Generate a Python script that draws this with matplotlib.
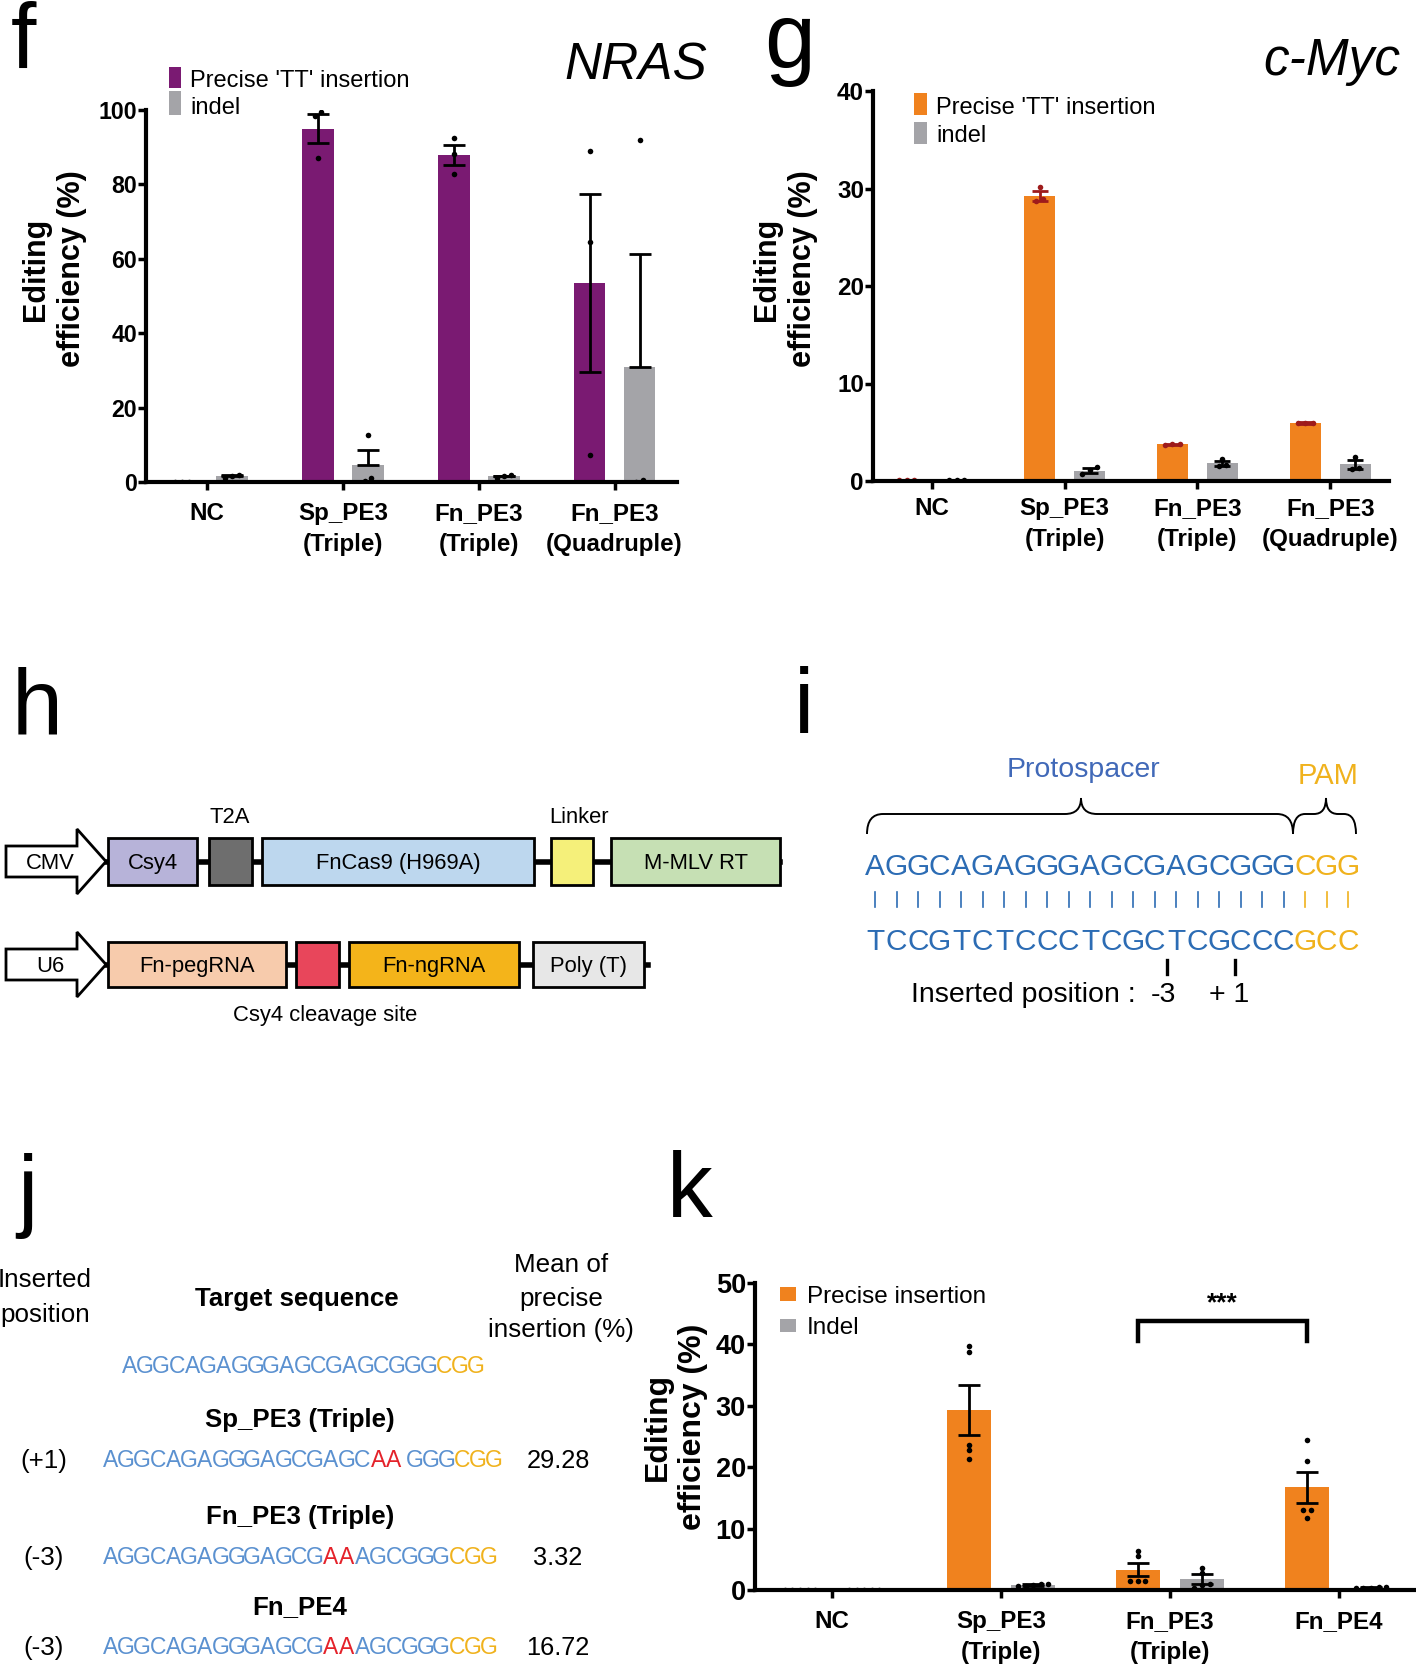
import matplotlib
matplotlib.use("Agg")
import matplotlib.pyplot as plt
from matplotlib.patches import Rectangle, Polygon, PathPatch
from matplotlib.path import Path
import numpy as np

W, H = 1416, 1666
plt.rcParams["font.family"] = ["Liberation Sans", "DejaVu Sans"]

# ---------------- data ----------------
cats_fg = ["NC", "Sp_PE3\n(Triple)", "Fn_PE3\n(Triple)", "Fn_PE3\n(Quadruple)"]
cats_k = ["NC", "Sp_PE3\n(Triple)", "Fn_PE3\n(Triple)", "Fn_PE4"]

# f: NRAS
nras_precise = [0.0, 95.0, 87.9, 53.5]
nras_precise_sem = [0.0, 4.0, 2.8, 24.0]
nras_precise_pts = [[0, 0, 0], [99.5, 98.5, 87.0], [92.5, 88.3, 82.8], [89.0, 64.4, 7.2]]
nras_indel = [1.5, 4.6, 1.5, 30.8]
nras_indel_sem = [0.3, 4.1, 0.2, 30.6]
nras_indel_pts = [[1.0, 1.6, 1.9], [12.6, 0.3, 1.0], [1.8, 1.2, 1.5], [92.0, 0.0, 0.5]]

# g: c-Myc
myc_precise = [0.1, 29.2, 3.75, 5.95]
myc_precise_sem = [0.02, 0.5, 0.08, 0.07]
myc_precise_pts = [[0.1, 0.1, 0.1], [30.2, 28.7, 28.9], [3.7, 3.8, 3.8], [5.9, 6.0, 6.0]]
myc_indel = [0.1, 1.05, 1.8, 1.7]
myc_indel_sem = [0.02, 0.25, 0.25, 0.45]
myc_indel_pts = [[0.1, 0.1, 0.1], [1.4, 0.75, 1.1], [2.3, 1.5, 1.65], [2.5, 1.2, 1.35]]

# j / k
j_means = [29.28, 3.32, 16.72]
k_precise = [0.0] + j_means
k_precise_sem = [0.0, 4.1, 1.0, 2.5]
k_precise_pts = [[0] * 5, [39.8, 38.7, 23.6, 22.8, 21.4], [6.3, 5.5, 1.5, 1.5, 1.5],
                 [24.4, 21.0, 13.1, 13.1, 11.7]]
k_indel = [0.0, 0.8, 1.8, 0.4]
k_indel_sem = [0.0, 0.15, 0.75, 0.1]
k_indel_pts = [[0] * 5, [1.0, 0.9, 0.7, 0.6, 0.8], [3.6, 2.8, 1.0, 0.8, 0.4],
               [0.5, 0.4, 0.3, 0.5, 0.3]]

protospacer = "AGGCAGAGGGAGCGAGCGGG"
pam = "CGG"
comp = {"A": "T", "T": "A", "G": "C", "C": "G"}

j_titles = ["Sp_PE3 (Triple)", "Fn_PE3 (Triple)", "Fn_PE4"]
j_pos = ["(+1)", "(-3)", "(-3)"]
j_seqs = [
    [("AGGCAGAGGGAGCGAGC", "b"), ("AA", "r"), (" ", "b"), ("GGG", "b"), ("CGG", "y")],
    [("AGGCAGAGGGAGCG", "b"), ("AA", "r"), ("AGCGGG", "b"), ("CGG", "y")],
    [("AGGCAGAGGGAGCG", "b"), ("AA", "r"), ("AGCGGG", "b"), ("CGG", "y")],
]

PURPLE = "#7a1a72"
GRAY = "#a4a4a8"
ORANGE = "#f0821e"
DARKRED = "#9e1b1b"

fig = plt.figure(figsize=(W / 100, H / 100), dpi=100)


def px_rect(l, t, r, b):
    return [l / W, 1 - b / H, (r - l) / W, (b - t) / H]


def swarm(vals, center, tol, dx):
    vals = np.asarray(vals, float)
    order = np.argsort(vals)
    xs = np.full(len(vals), center, float)
    groups, cur = [], [order[0]]
    for a, b in zip(order[:-1], order[1:]):
        if vals[b] - vals[a] < tol:
            cur.append(b)
        else:
            groups.append(cur)
            cur = [b]
    groups.append(cur)
    for g in groups:
        n = len(g)
        for k, i in enumerate(g):
            xs[i] = center + (k - (n - 1) / 2) * dx
    return xs


def bar_panel(rect, cats, m1, e1, p1, m2, e2, p2, c1, c2, ymax, ystep, xlim,
              width, off, cap, dx, ytick_pt, xpad, col1="black", lower2=True):
    ax = fig.add_axes(px_rect(*rect))
    x = np.arange(len(cats))
    ax.bar(x - off, m1, width, color=c1, zorder=2)
    ax.bar(x + off, m2, width, color=c2, zorder=2)
    tol = ymax * 0.015
    for i in range(len(cats)):
        xs = swarm(p1[i], x[i] - off, tol, dx)
        ax.scatter(xs, p1[i], s=16, color=col1, zorder=3, lw=0)
        xs = swarm(p2[i], x[i] + off, tol, dx)
        ax.scatter(xs, p2[i], s=16, color="black", zorder=3, lw=0)
    ax.errorbar(x - off, m1, yerr=e1, fmt="none", ecolor=col1, elinewidth=2,
                capsize=cap, capthick=2, zorder=4, clip_on=False)
    e2 = np.asarray(e2)
    yerr2 = e2 if lower2 else [np.zeros_like(e2), e2]
    ax.errorbar(x + off, m2, yerr=yerr2, fmt="none", ecolor="black", elinewidth=2,
                capsize=cap, capthick=2, zorder=4, clip_on=False)
    ax.set_xlim(*xlim)
    ax.set_ylim(0, ymax)
    ax.set_facecolor("none")
    for s in ("top", "right"):
        ax.spines[s].set_visible(False)
    for s in ("left", "bottom"):
        ax.spines[s].set_linewidth(3)
        ax.spines[s].set_zorder(5)
    ticks = np.arange(0, ymax + 0.1, ystep)
    ax.set_yticks(ticks)
    ax.set_yticklabels([f"{v:g}" for v in ticks], fontweight="bold", fontsize=ytick_pt)
    ax.set_xticks(x)
    ax.set_xticklabels(cats, fontweight="bold", fontsize=17.4, linespacing=1.45)
    ax.tick_params(axis="y", length=5.5, width=2.5, pad=1)
    ax.tick_params(axis="x", length=5.5, width=2.5, pad=xpad)
    return ax


# f
bar_panel((146, 110, 677, 482), cats_fg, nras_precise, nras_precise_sem, nras_precise_pts,
          nras_indel, nras_indel_sem, nras_indel_pts, PURPLE, GRAY, 100, 20,
          (-0.45, 3.46), 0.235, 0.184, 8, 0.05, 16.7, 9, lower2=False)
# g
bar_panel((873, 91, 1389, 481), cats_fg, myc_precise, myc_precise_sem, myc_precise_pts,
          myc_indel, myc_indel_sem, myc_indel_pts, ORANGE, GRAY, 40, 10,
          (-0.44, 3.44), 0.233, 0.188, 5.5, 0.055, 17.5, 6, col1=DARKRED)
# k
axk = bar_panel((755, 1283, 1415, 1590), cats_k, k_precise, k_precise_sem, k_precise_pts,
                k_indel, k_indel_sem, k_indel_pts, ORANGE, GRAY, 50, 10,
                (-0.456, 3.45), 0.26, 0.19, 8, 0.045, 19.5, 9)
xa, xb = 2 - 0.19, 3 - 0.19
axk.plot([xa, xa, xb, xb], [40.6, 43.8, 43.8, 40.6], color="black", lw=3.2,
         clip_on=False, solid_joinstyle="miter")
axk.text((xa + xb) / 2, 45.6, "***", ha="center", va="baseline", fontsize=19,
         fontweight="bold")

# ---------------- overlay in pixel coordinates ----------------
ov = fig.add_axes([0, 0, 1, 1])
ov.set_xlim(0, W)
ov.set_ylim(H, 0)
ov.axis("off")
ov.set_facecolor("none")


def txt(x, ycap, s, pt, ha="center", **kw):
    base = ycap + 0.36 * pt * 100 / 72
    ov.text(x, base, s, ha=ha, va="baseline", fontsize=pt, **kw)


# panel letters
for lx, ly, lt in [(11, 68, "f"), (764, 68, "g"), (12, 733, "h"), (794, 733, "i"),
                   (17, 1220, "j"), (667, 1217, "k")]:
    ov.text(lx, ly, lt, fontsize=66, ha="left", va="baseline")

# gene names
ov.text(707, 79, "NRAS", ha="right", va="baseline", fontsize=37, style="italic")
ov.text(1400, 75, "c-Myc", ha="right", va="baseline", fontsize=37, style="italic")

# y labels
for xc, yc, pt in [(54, 269, 22), (785, 269, 22), (675, 1427, 23)]:
    ov.text(xc, yc, "Editing\nefficiency (%)", rotation=90, ha="center", va="center",
            fontsize=pt, fontweight="bold", linespacing=1.22)

# legends
legends = [
    (169, 12, [(67, 88, 78, PURPLE, "Precise 'TT' insertion"), (91, 115, 105, GRAY, "indel")], 190, 17),
    (914, 13, [(93, 115, 105.5, ORANGE, "Precise 'TT' insertion"), (122, 144, 133, GRAY, "indel")], 936, 17),
    (780, 16, [(1287, 1301, 1294, ORANGE, "Precise insertion"), (1319, 1332, 1325, GRAY, "Indel")], 807, 17.5),
]
for sx, sw, items, tx, pt in legends:
    for y0, y1, yt, col, lab in items:
        ov.add_patch(Rectangle((sx, y0), sw, y1 - y0, color=col, lw=0))
        txt(tx, yt, lab, pt, ha="left")

# ---------------- h: construct diagram ----------------
HPT = 15.8


def arrow(cy, label):
    x0, xh, xt, sh, hh = 6, 77, 106, 15.5, 32.5
    pts = [(x0, cy - sh), (xh, cy - sh), (xh, cy - hh), (xt, cy), (xh, cy + hh),
           (xh, cy + sh), (x0, cy + sh)]
    ov.add_patch(Polygon(pts, closed=True, fc="white", ec="black", lw=2, joinstyle="miter"))
    txt(50, cy, label, HPT)


row1 = [(108, 197, "#b7b3d9", "Csy4"), (209, 252, "#6e6e6e", ""),
        (262, 534, "#bdd7ee", "FnCas9 (H969A)"), (551, 593, "#f5f07a", ""),
        (611, 780, "#c6e0b4", "M-MLV RT")]
row2 = [(108, 286, "#f7cbac", "Fn-pegRNA"), (296, 339, "#e8465b", ""),
        (349, 519, "#f4b41a", "Fn-ngRNA"), (533, 644, "#e7e7e7", "Poly (T)")]
for cy, half, boxes, lab, xend in [(861.5, 23.5, row1, "CMV", 780), (964.5, 22.5, row2, "U6", 648)]:
    ov.plot([106, xend], [cy, cy], color="black", lw=4, zorder=1)
    for x0, x1, col, name in boxes:
        ov.add_patch(Rectangle((x0, cy - half), x1 - x0, 2 * half, fc=col, ec="black",
                               lw=2, zorder=2))
        if name:
            txt((x0 + x1) / 2, cy, name, HPT, zorder=3)
    arrow(cy, lab)
txt(230, 815, "T2A", HPT)
txt(579, 815, "Linker", HPT)
txt(325, 1013, "Csy4 cleavage site", HPT)

# ---------------- i: target site ----------------
BLUE_I = "#2c6cb4"
YEL = "#f0b21d"
PROTO_C = "#4169b8"


def brace(x0, x1, xm, ybase, ytop, ypeak, r):
    verts = [(x0, ybase), (x0, ytop), (x0 + r, ytop),
             (xm - r, ytop), (xm, ytop), (xm, ypeak),
             (xm, ytop), (xm + r, ytop),
             (x1 - r, ytop), (x1, ytop), (x1, ybase)]
    codes = [Path.MOVETO, Path.CURVE3, Path.CURVE3,
             Path.LINETO, Path.CURVE3, Path.CURVE3,
             Path.CURVE3, Path.CURVE3,
             Path.LINETO, Path.CURVE3, Path.CURVE3]
    ov.add_patch(PathPatch(Path(verts, codes), fc="none", ec="black", lw=1.4))


brace(867, 1293, 1081, 834, 814, 798, 16)
brace(1293, 1356, 1326, 834, 814, 798, 12)
txt(1083, 767, "Protospacer", 20.5, color=PROTO_C)
txt(1328, 773, "PAM", 21, color=YEL)

top = protospacer + pam
bottom = "".join(comp[c] for c in top)
pitch_i = 21.5
for i, (a, b) in enumerate(zip(top, bottom)):
    xc = 875 + pitch_i * i
    col = BLUE_I if i < len(protospacer) else YEL
    txt(xc, 864, a, 21.5, color=col)
    txt(xc, 939, b, 21.5, color=col)
    ov.plot([xc, xc], [892, 907], color=col, lw=1.2)
for mx in (1167, 1235):
    ov.plot([mx, mx], [960, 974], color="black", lw=2.4)
txt(911, 992, "Inserted position :", 20.5, ha="left")
txt(1163, 992, "-3", 20.5)
txt(1229, 992, "+ 1", 20.5)

# ---------------- j: sequences table ----------------
BLUE_J = "#5b91d0"
RED_J = "#e4222a"
cols_j = {"b": BLUE_J, "r": RED_J, "y": YEL}
pitch_j = 15.75


def seq_row(x0, ycap, segs):
    x = x0
    for s, key in segs:
        for ch in s:
            if ch == " ":
                x += pitch_j * 0.35
                continue
            txt(x + pitch_j / 2, ycap, ch, 16.5, color=cols_j[key])
            x += pitch_j


JPT = 18.7
txt(45, 1278, "Inserted", JPT)
txt(45, 1313, "position", JPT)
txt(297, 1297, "Target sequence", 18.6, fontweight="bold")
for yy, line in zip((1263, 1297, 1328), ("Mean of", "precise", "insertion (%)")):
    txt(561, yy, line, JPT)
seq_row(121.5, 1365, [(protospacer, "b"), (pam, "y")])
for r, (title, pos, segs, val) in enumerate(zip(j_titles, j_pos, j_seqs, j_means)):
    yt = [1418, 1515, 1605][r]
    yr = [1459, 1556, 1646][r]
    txt(300, yt, title, 18.6, fontweight="bold")
    txt(44, yr, pos, JPT)
    seq_row(102.5, yr, segs)
    txt(558, yr, f"{val:.2f}", 18.3)

fig.savefig("out.png", dpi=100)
